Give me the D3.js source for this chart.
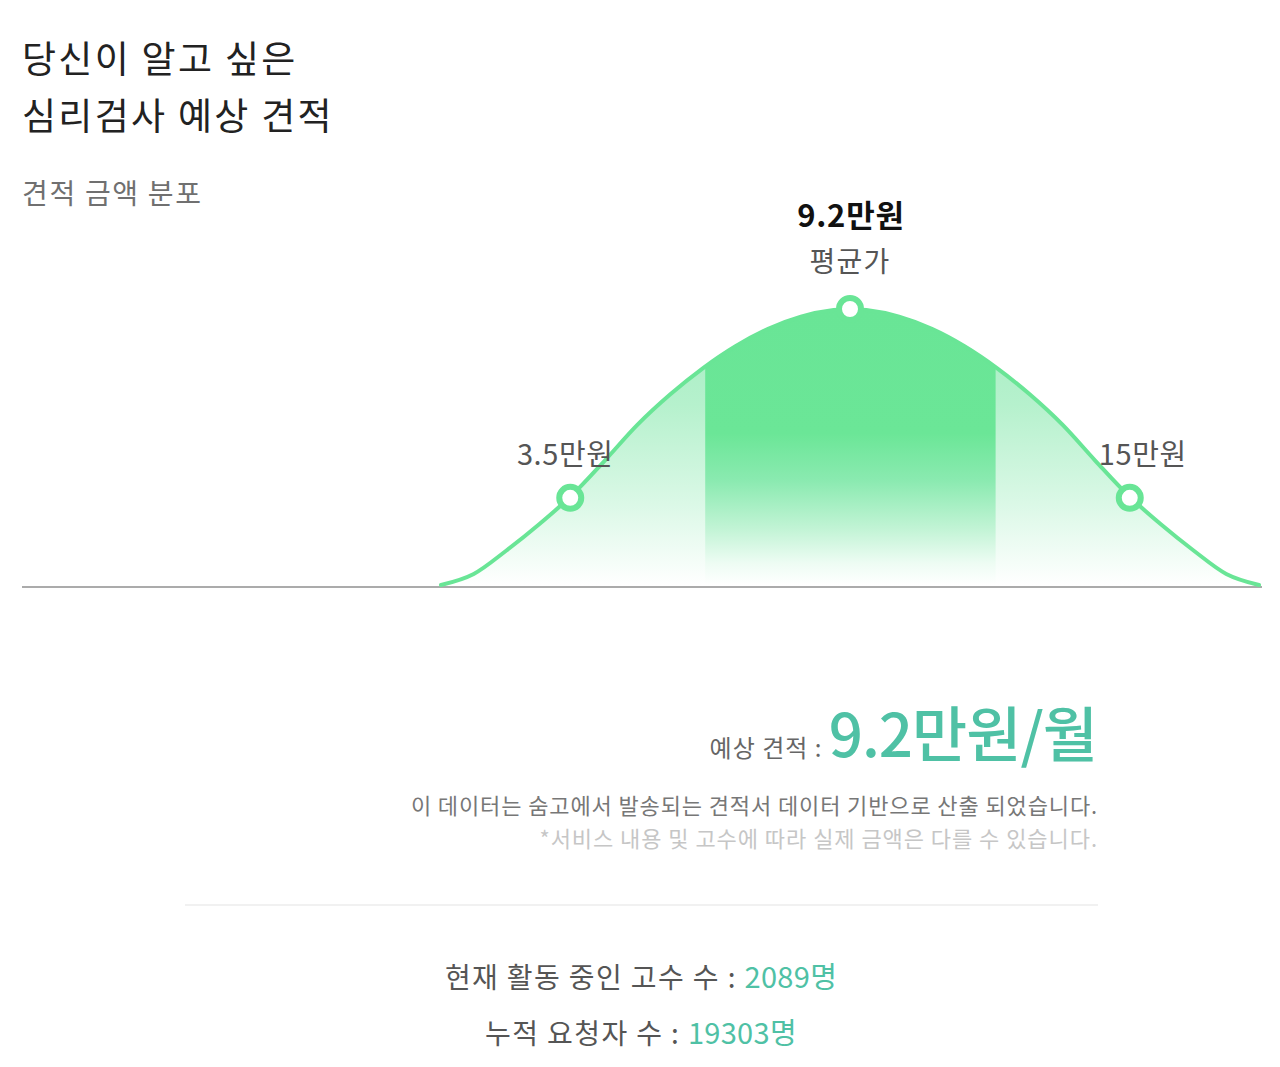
<!DOCTYPE html>
<html><head><meta charset="utf-8">
<script src="https://cdn.jsdelivr.net/npm/d3@7/dist/d3.min.js"></script>
<style>
html,body{margin:0;padding:0;background:#fff;}
svg{display:block;font-family:"Noto Sans CJK KR","Noto Sans",sans-serif;}
</style></head>
<body><svg id="c" width="1280" height="1067"></svg>
<script>
// ---- data ----
// curve position along the distribution (0..100) and relative density (0..100)
const curveX = [0, 4, 8, 12, 16, 20, 24, 28, 32, 36, 40, 44, 48, 50, 52, 56, 60, 64, 68, 72, 76, 80, 84, 88, 92, 96, 100];
const curveY = [0, 4, 12.5, 22, 32.5, 45, 58, 69, 78.5, 86.5, 92.8, 97.2, 99.6, 100, 99.6, 97.2, 92.8, 86.5, 78.5, 69, 58, 45, 32.5, 22, 12.5, 4, 0];
const markerX = [15.8, 50, 84.2];
const markerY = [31.6, 100, 31.6];
const markerLabels = ["3.5만원", "", "15만원"];
const bandRange = [32.3, 67.8];
const meanPrice = "9.2만원";
const meanLabel = "평균가";
const estimateLabel = "예상 견적 :";
const estimateValue = "9.2만원/월";
const noteLines = ["이 데이터는 숨고에서 발송되는 견적서 데이터 기반으로 산출 되었습니다.", "*서비스 내용 및 고수에 따라 실제 금액은 다를 수 있습니다."];
const statLabels = ["현재 활동 중인 고수 수 : ", "누적 요청자 수 : "];
const statValues = ["2089명", "19303명"];

const svg = d3.select("#c");
const green = "#69e596";
const teal = "#4fc1a5";

const x = d3.scaleLinear().domain([0, 100]).range([441, 1259]);
const y = d3.scaleLinear().domain([0, 100]).range([585, 309]);
const pts = curveX.map((v, i) => [v, curveY[i]]);

// titles
const t1 = svg.append("text").attr("x", 22).attr("fill", "#222").attr("font-size", 37).attr("letter-spacing", 2.3);
t1.append("tspan").attr("x", 22).attr("y", 73).text("당신이 알고 싶은");
t1.append("tspan").attr("x", 22).attr("y", 130).text("심리검사 예상 견적");
svg.append("text").attr("x", 22).attr("y", 204).attr("fill", "#707070").attr("font-size", 28)
  .attr("letter-spacing", 1.7).text("견적 금액 분포");

// gradients
const defs = svg.append("defs");
const gSide = defs.append("linearGradient").attr("id", "gSide").attr("gradientUnits", "userSpaceOnUse")
  .attr("x1", 0).attr("x2", 0).attr("y1", y(100)).attr("y2", y(0));
[[0, "#a4edc1"], [0.35, "#b6f1cd"], [0.7, "#daf8e6"], [1, "#ffffff"]].forEach(s =>
  gSide.append("stop").attr("offset", s[0]).attr("stop-color", s[1]));
const gBand = defs.append("linearGradient").attr("id", "gBand").attr("gradientUnits", "userSpaceOnUse")
  .attr("x1", 0).attr("x2", 0).attr("y1", y(100)).attr("y2", y(0));
[[0, "#69e596"], [0.45, "#6be697"], [0.62, "#8aeab0"], [0.8, "#c3f4d6"], [0.92, "#edfcf3"], [1, "#ffffff"]].forEach(s =>
  gBand.append("stop").attr("offset", s[0]).attr("stop-color", s[1]));

const area = d3.area().x(d => x(d[0])).y0(y(0)).y1(d => y(d[1])).curve(d3.curveMonotoneX);
const line = d3.line().x(d => x(d[0])).y(d => y(d[1])).curve(d3.curveMonotoneX);
defs.append("clipPath").attr("id", "clipA").append("path").attr("d", area(pts));

const g = svg.append("g").attr("clip-path", "url(#clipA)");
g.append("rect").attr("x", x(0)).attr("width", x(100) - x(0)).attr("y", y(100)).attr("height", y(0) - y(100)).attr("fill", "url(#gSide)");
g.append("rect").attr("x", x(bandRange[0])).attr("width", x(bandRange[1]) - x(bandRange[0]))
  .attr("y", y(100)).attr("height", y(0) - y(100)).attr("fill", "url(#gBand)");

// baseline
svg.append("line").attr("x1", 22).attr("x2", 1262).attr("y1", 587).attr("y2", 587)
  .attr("stroke", "#ababab").attr("stroke-width", 2);

// curve
svg.append("path").attr("d", line(pts)).attr("fill", "none").attr("stroke", green)
  .attr("stroke-width", 4).attr("stroke-linecap", "round");

// markers
svg.selectAll("circle.m").data(markerX).join("circle").attr("class", "m")
  .attr("cx", d => x(d)).attr("cy", (d, i) => y(markerY[i]))
  .attr("r", 11).attr("fill", "#fff").attr("stroke", green).attr("stroke-width", 6);

// marker labels
svg.selectAll("text.ml").data(markerX).join("text").attr("class", "ml")
  .attr("x", (d, i) => x(d) + (i === 0 ? -5 : 13)).attr("y", 465)
  .attr("text-anchor", "middle").attr("font-size", 29).attr("fill", "#555")
  .attr("letter-spacing", 0.6)
  .text((d, i) => markerLabels[i]);

svg.append("text").attr("x", x(50) + 1).attr("y", 227).attr("text-anchor", "middle")
  .attr("font-size", 31).attr("font-weight", 700).attr("fill", "#111").attr("letter-spacing", 0.8).text(meanPrice);
svg.append("text").attr("x", x(50)).attr("y", 272).attr("text-anchor", "middle")
  .attr("font-size", 28).attr("fill", "#555").attr("letter-spacing", 1.2).text(meanLabel);

// estimate
const est = svg.append("text").attr("x", 1097).attr("y", 757).attr("text-anchor", "end");
est.append("tspan").attr("font-size", 24).attr("fill", "#666").attr("letter-spacing", 1).text(estimateLabel + " ");
est.append("tspan").attr("font-size", 60).attr("font-weight", 500).attr("fill", teal).attr("letter-spacing", -1).text(estimateValue);

svg.append("text").attr("x", 1098).attr("y", 814).attr("text-anchor", "end").attr("font-size", 22)
  .attr("fill", "#777").attr("letter-spacing", 0.88).text(noteLines[0]);
svg.append("text").attr("x", 1098).attr("y", 847).attr("text-anchor", "end").attr("font-size", 22)
  .attr("fill", "#c6c6c6").attr("letter-spacing", 0.95).text(noteLines[1]);

svg.append("line").attr("x1", 185).attr("x2", 1098).attr("y1", 905).attr("y2", 905)
  .attr("stroke", "#ececec").attr("stroke-width", 1.5);

statLabels.forEach((lab, i) => {
  const t = svg.append("text").attr("x", 641).attr("y", 988 + i * 56).attr("text-anchor", "middle").attr("font-size", 28);
  t.append("tspan").attr("fill", "#555").attr("letter-spacing", 1.4).text(lab);
  t.append("tspan").attr("fill", teal).attr("font-size", 29).attr("letter-spacing", 0.3).text(statValues[i]);
});
</script></body></html>
